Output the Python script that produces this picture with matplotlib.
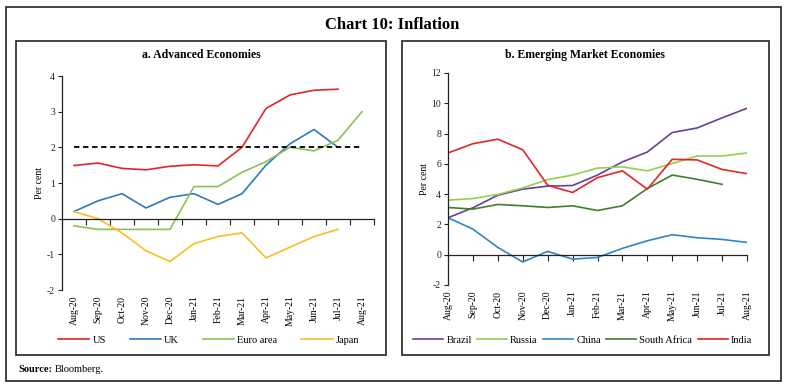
import matplotlib.pyplot as plt
from matplotlib.patches import Rectangle

plt.rcParams['font.family'] = ['Liberation Serif', 'DejaVu Serif']
plt.rcParams['axes.unicode_minus'] = False

months = ['Aug-20', 'Sep-20', 'Oct-20', 'Nov-20', 'Dec-20', 'Jan-21', 'Feb-21',
          'Mar-21', 'Apr-21', 'May-21', 'Jun-21', 'Jul-21', 'Aug-21']

# Advanced economies (per cent)
us = [1.49, 1.56, 1.41, 1.37, 1.47, 1.51, 1.48, 2.0, 3.09, 3.47, 3.6, 3.63]
uk = [0.2, 0.5, 0.7, 0.3, 0.6, 0.7, 0.4, 0.7, 1.5, 2.1, 2.5, 2.0]
euro = [-0.2, -0.3, -0.3, -0.3, -0.3, 0.9, 0.9, 1.3, 1.6, 2.0, 1.9, 2.2, 3.0]
japan = [0.2, 0.0, -0.4, -0.9, -1.2, -0.7, -0.5, -0.4, -1.1, -0.8, -0.5, -0.3]
target = 2.0

# Emerging market economies (per cent)
brazil = [2.44, 3.1, 3.93, 4.33, 4.53, 4.57, 5.26, 6.13, 6.78, 8.07, 8.37, 9.04, 9.67]
russia = [3.6, 3.71, 3.98, 4.41, 4.96, 5.26, 5.72, 5.8, 5.54, 6.02, 6.52, 6.52, 6.72]
china = [2.44, 1.69, 0.48, -0.48, 0.22, -0.29, -0.18, 0.42, 0.92, 1.32, 1.12, 1.01, 0.81]
s_africa = [3.12, 3.01, 3.32, 3.23, 3.12, 3.23, 2.92, 3.23, 4.37, 5.26, 4.98, 4.65]
india = [6.72, 7.33, 7.63, 6.93, 4.59, 4.11, 5.09, 5.54, 4.33, 6.3, 6.26, 5.63, 5.35]

W, H = 785, 385
fig = plt.figure(figsize=(W / 100, H / 100), dpi=100)


def box(x0, y0, x1, y1):
    # rectangle given in pixel coords from top-left
    fig.patches.append(Rectangle((x0 / W, 1 - y1 / H), (x1 - x0) / W, (y1 - y0) / H,
                                 transform=fig.transFigure, fill=False, edgecolor='#222222', lw=1.2))


# frames
box(6, 7, 781, 381)
box(16, 41, 386, 355)
box(402, 41, 769, 355)

fig.text(0.5, 1 - 25 / H, 'Chart 10: Inflation', ha='center', va='center', fontsize=12, fontweight='bold')
fig.text(201 / W, 1 - 55 / H, 'a. Advanced Economies', ha='center', va='center', fontsize=8.5, fontweight='bold')
fig.text(585 / W, 1 - 55 / H, 'b. Emerging Market Economies', ha='center', va='center', fontsize=8.5,
         fontweight='bold')
fig.text(18 / W, 1 - 370 / H, 'Source:', ha='left', va='center', fontsize=7.5, fontweight='bold')
fig.text(55 / W, 1 - 370 / H, 'Bloomberg.', ha='left', va='center', fontsize=7.5)

ax1 = fig.add_axes([62 / W, 1 - 290 / H, 312 / W, 214 / H])
ax2 = fig.add_axes([448 / W, 1 - 285 / H, 299 / W, 212 / H])


def style(ax, ylim, step, xlim, zero_ticks):
    ax.set_ylim(*ylim)
    ax.set_xlim(*xlim)
    ax.set_yticks(range(ylim[0], ylim[1] + 1, step))
    for s in ['top', 'right']:
        ax.spines[s].set_visible(False)
    ax.spines['bottom'].set_position(('data', 0))
    for s in ['left', 'bottom']:
        ax.spines[s].set_color('#222222')
        ax.spines[s].set_linewidth(0.9)
    ax.set_xticks(zero_ticks)
    ax.tick_params(axis='x', length=4, width=0.8, labelbottom=False, colors='#222222')
    ax.tick_params(axis='y', length=3, width=0.8, labelsize=7, colors='#222222', pad=2)
    sec = ax.secondary_xaxis('bottom')
    sec.set_xticks(range(len(months)))
    sec.set_xticklabels(months, rotation=90, fontsize=7)
    sec.tick_params(length=0, pad=4)
    sec.spines['bottom'].set_visible(False)
    ax.set_ylabel('Per cent', fontsize=7, labelpad=2)


x = list(range(len(months)))
ax1.plot(x[:len(us)], us, color='#e32526', lw=1.2, label='US')
ax1.plot(x[:len(uk)], uk, color='#2b7bc1', lw=1.2, label='UK')
ax1.plot(x[:len(euro)], euro, color='#8cc152', lw=1.2, label='Euro area')
ax1.plot(x[:len(japan)], japan, color='#fbbd26', lw=1.2, label='Japan')
ax1.plot([x[0], x[-1]], [target, target], color='black', lw=1.3, ls=(0, (3, 2)))
style(ax1, (-2, 4), 1, (-0.5, 12.5), [i - 0.5 for i in range(len(months) + 1)])
h1, l1 = ax1.get_legend_handles_labels()
fig.legend(h1, l1, loc='center left', bbox_to_anchor=(58 / W, 1 - 340 / H), ncol=4, frameon=False,
           fontsize=7.5, handlelength=3.0, columnspacing=2.3, handletextpad=0.3,
           borderpad=0, borderaxespad=0)

ax2.plot(x, brazil, color='#6a3d9a', lw=1.2, label='Brazil')
ax2.plot(x, russia, color='#92d050', lw=1.2, label='Russia')
ax2.plot(x, china, color='#2e86c8', lw=1.2, label='China')
ax2.plot(x[:len(s_africa)], s_africa, color='#3f7f2e', lw=1.2, label='South Africa')
ax2.plot(x, india, color='#e32526', lw=1.2, label='India')
style(ax2, (-2, 12), 2, (0, 12), x)
h2, l2 = ax2.get_legend_handles_labels()
fig.legend(h2, l2, loc='center left', bbox_to_anchor=(413 / W, 1 - 340 / H), ncol=5, frameon=False,
           fontsize=7.5, handlelength=2.9, columnspacing=0.5, handletextpad=0.3,
           borderpad=0, borderaxespad=0)

fig.savefig('out.png', dpi=100)
